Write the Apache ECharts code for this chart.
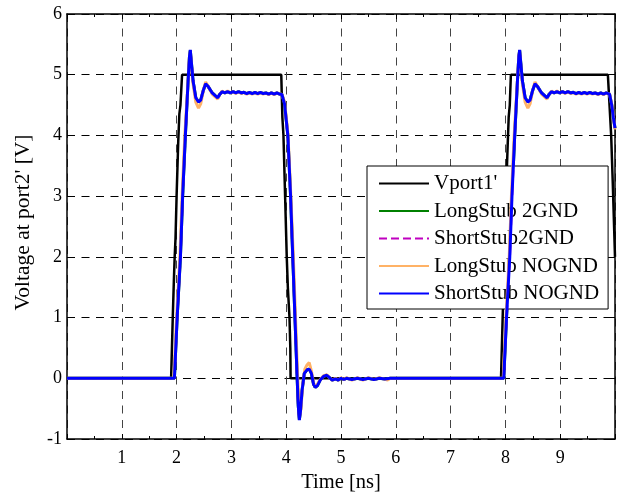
<!DOCTYPE html>
<html>
<head>
<meta charset="utf-8">
<script src="https://cdn.jsdelivr.net/npm/echarts@6/dist/echarts.min.js"></script>
<style>html,body{margin:0;padding:0;background:#fff;overflow:hidden}#c{width:618px;height:493px}</style>
</head>
<body>
<div id="c"></div>
<script>
// ---- data (time [ns], voltage [V]) ----
const seriesNames = ["Vport1'", "LongStub 2GND", "ShortStub2GND", "LongStub NOGND", "ShortStub NOGND"];
const xTicks = [1, 2, 3, 4, 5, 6, 7, 8, 9];
const yTicks = [-1, 0, 1, 2, 3, 4, 5, 6];

const vport1 = [
  [0,0],[1.90,0],[1.93,1.0],[1.95,1.6],[1.965,2.0],[1.98,2.3],[2.0,3.0],[2.03,3.9],[2.05,4.35],[2.07,4.5],[2.10,5.0],
  [3.91,5.0],[3.93,4.3],[3.95,4.0],[3.98,3.0],[4.01,2.0],[4.03,1.5],[4.06,1.0],[4.075,0.5],[4.08,0],
  [7.92,0],[7.95,1.0],[7.97,1.6],[7.985,2.0],[8.01,3.0],[8.04,3.8],[8.06,4.3],[8.08,4.5],[8.10,5.0],
  [9.87,5.0],[9.90,4.5],[9.93,4.0],[9.96,3.2],[10,2.0]
];

const shortStubNOGND = [
  [0,0],[1.96,0],[2.01,1.0],[2.07,2.0],[2.11,3.0],[2.16,4.0],[2.21,4.9],[2.235,5.3],[2.25,5.41],[2.27,5.2],[2.30,4.9],
  [2.35,4.62],[2.40,4.55],[2.44,4.58],[2.49,4.75],[2.53,4.85],[2.58,4.8],[2.65,4.7],[2.71,4.65],[2.75,4.62],[2.79,4.68],
  [2.83,4.72],[2.88,4.70],[2.93,4.72],[2.98,4.70],[3.03,4.72],[3.08,4.70],[3.13,4.72],[3.18,4.70],[3.23,4.71],[3.28,4.69],
  [3.33,4.71],[3.38,4.69],[3.43,4.71],[3.48,4.69],[3.53,4.71],[3.58,4.69],[3.63,4.70],[3.68,4.68],[3.73,4.70],[3.78,4.68],
  [3.83,4.70],[3.88,4.68],[3.92,4.68],[3.97,4.52],[4.03,4.0],[4.08,3.0],[4.12,2.0],[4.16,1.0],[4.20,0],[4.22,-0.45],
  [4.24,-0.69],[4.26,-0.55],[4.29,-0.2],[4.33,0.08],[4.38,0.14],[4.42,0.15],[4.46,0.08],[4.50,-0.1],[4.53,-0.15],[4.57,-0.12],
  [4.62,-0.03],[4.68,0.03],[4.74,0.05],[4.79,0.01],[4.84,-0.03],[4.90,-0.01],[4.95,-0.03],[5.0,0.0],[5.05,-0.02],[5.10,0.0],
  [5.20,-0.02],[5.30,0.0],[5.40,-0.02],[5.50,0.0],[5.60,-0.02],[5.70,0.0],[5.80,-0.01],[5.90,0],
  [7.97,0],[8.02,1.0],[8.08,2.0],[8.12,3.0],[8.17,4.0],[8.22,4.9],[8.245,5.3],[8.26,5.41],[8.28,5.2],[8.31,4.9],
  [8.36,4.62],[8.41,4.55],[8.45,4.58],[8.50,4.75],[8.54,4.85],[8.59,4.8],[8.66,4.7],[8.72,4.65],[8.76,4.62],[8.80,4.68],
  [8.84,4.72],[8.89,4.70],[8.94,4.72],[8.99,4.70],[9.04,4.72],[9.09,4.70],[9.14,4.72],[9.19,4.70],[9.24,4.71],[9.29,4.69],
  [9.34,4.71],[9.39,4.69],[9.44,4.71],[9.49,4.69],[9.54,4.71],[9.59,4.69],[9.64,4.70],[9.69,4.68],[9.74,4.70],[9.79,4.68],
  [9.84,4.70],[9.90,4.68],[9.94,4.50],[9.97,4.30],[10,4.12]
];

const longStub2GND = [
  [0,0],[1.96,0],[2.01,1.0],[2.07,2.0],[2.11,3.0],[2.16,4.0],[2.21,4.9],[2.235,5.3],[2.25,5.40],[2.27,5.2],[2.30,4.9],
  [2.35,4.62],[2.40,4.55],[2.44,4.58],[2.49,4.75],[2.53,4.85],[2.58,4.8],[2.65,4.7],[2.71,4.65],[2.75,4.62],[2.79,4.68],
  [2.83,4.72],[2.88,4.70],[2.93,4.72],[2.98,4.70],[3.03,4.72],[3.08,4.70],[3.13,4.72],[3.18,4.70],[3.23,4.71],[3.28,4.69],
  [3.33,4.71],[3.38,4.69],[3.43,4.71],[3.48,4.69],[3.53,4.71],[3.58,4.69],[3.63,4.70],[3.68,4.68],[3.73,4.70],[3.78,4.68],
  [3.83,4.70],[3.88,4.68],[3.92,4.68],[3.97,4.52],[4.03,4.0],[4.08,3.0],[4.12,2.0],[4.16,1.0],[4.20,0],[4.22,-0.45],
  [4.24,-0.68],[4.26,-0.55],[4.29,-0.2],[4.33,0.08],[4.38,0.14],[4.42,0.15],[4.46,0.08],[4.50,-0.1],[4.53,-0.15],[4.57,-0.12],
  [4.62,-0.03],[4.68,0.03],[4.74,0.05],[4.79,0.01],[4.84,-0.03],[4.90,-0.01],[4.95,-0.03],[5.0,0.0],[5.05,-0.02],[5.10,0.0],
  [5.20,-0.02],[5.30,0.0],[5.40,-0.02],[5.50,0.0],[5.60,-0.02],[5.70,0.0],[5.80,-0.01],[5.90,0],
  [7.97,0],[8.02,1.0],[8.08,2.0],[8.12,3.0],[8.17,4.0],[8.22,4.9],[8.245,5.3],[8.26,5.40],[8.28,5.2],[8.31,4.9],
  [8.36,4.62],[8.41,4.55],[8.45,4.58],[8.50,4.75],[8.54,4.85],[8.59,4.8],[8.66,4.7],[8.72,4.65],[8.76,4.62],[8.80,4.68],
  [8.84,4.72],[8.89,4.70],[8.94,4.72],[8.99,4.70],[9.04,4.72],[9.09,4.70],[9.14,4.72],[9.19,4.70],[9.24,4.71],[9.29,4.69],
  [9.34,4.71],[9.39,4.69],[9.44,4.71],[9.49,4.69],[9.54,4.71],[9.59,4.69],[9.64,4.70],[9.69,4.68],[9.74,4.70],[9.79,4.68],
  [9.84,4.70],[9.90,4.68],[9.94,4.50],[9.97,4.30],[10,4.12]
];

const shortStub2GND = [
  [0,0],[1.96,0],[2.01,1.0],[2.07,2.0],[2.11,3.0],[2.16,4.0],[2.21,4.9],[2.235,5.3],[2.25,5.40],[2.27,5.2],[2.30,4.9],
  [2.35,4.62],[2.40,4.55],[2.44,4.58],[2.49,4.75],[2.53,4.85],[2.58,4.8],[2.65,4.7],[2.71,4.65],[2.75,4.62],[2.79,4.68],
  [2.83,4.72],[2.88,4.70],[2.93,4.72],[2.98,4.70],[3.03,4.72],[3.08,4.70],[3.13,4.72],[3.18,4.70],[3.23,4.71],[3.28,4.69],
  [3.33,4.71],[3.38,4.69],[3.43,4.71],[3.48,4.69],[3.53,4.71],[3.58,4.69],[3.63,4.70],[3.68,4.68],[3.73,4.70],[3.78,4.68],
  [3.83,4.70],[3.88,4.68],[3.92,4.68],[3.97,4.52],[4.03,4.0],[4.08,3.0],[4.12,2.0],[4.16,1.0],[4.20,0],[4.22,-0.45],
  [4.24,-0.68],[4.26,-0.55],[4.29,-0.2],[4.33,0.08],[4.38,0.14],[4.42,0.15],[4.46,0.08],[4.50,-0.1],[4.53,-0.15],[4.57,-0.12],
  [4.62,-0.03],[4.68,0.03],[4.74,0.05],[4.79,0.01],[4.84,-0.03],[4.90,-0.01],[4.95,-0.03],[5.0,0.0],[5.05,-0.02],[5.10,0.0],
  [5.20,-0.02],[5.30,0.0],[5.40,-0.02],[5.50,0.0],[5.60,-0.02],[5.70,0.0],[5.80,-0.01],[5.90,0],
  [7.97,0],[8.02,1.0],[8.08,2.0],[8.12,3.0],[8.17,4.0],[8.22,4.9],[8.245,5.3],[8.26,5.40],[8.28,5.2],[8.31,4.9],
  [8.36,4.62],[8.41,4.55],[8.45,4.58],[8.50,4.75],[8.54,4.85],[8.59,4.8],[8.66,4.7],[8.72,4.65],[8.76,4.62],[8.80,4.68],
  [8.84,4.72],[8.89,4.70],[8.94,4.72],[8.99,4.70],[9.04,4.72],[9.09,4.70],[9.14,4.72],[9.19,4.70],[9.24,4.71],[9.29,4.69],
  [9.34,4.71],[9.39,4.69],[9.44,4.71],[9.49,4.69],[9.54,4.71],[9.59,4.69],[9.64,4.70],[9.69,4.68],[9.74,4.70],[9.79,4.68],
  [9.84,4.70],[9.90,4.68],[9.94,4.50],[9.97,4.30],[10,4.12]
];

const longStubNOGND = [
  [0,0],[1.95,0],[2.00,1.0],[2.06,2.0],[2.10,3.0],[2.15,4.0],[2.21,4.9],[2.235,5.3],[2.25,5.38],[2.27,5.15],[2.30,4.85],
  [2.35,4.55],[2.40,4.45],[2.44,4.52],[2.49,4.75],[2.53,4.88],[2.58,4.8],[2.65,4.68],[2.71,4.63],[2.75,4.60],[2.79,4.68],
  [2.83,4.73],[2.88,4.70],[2.93,4.73],[2.98,4.70],[3.03,4.72],[3.08,4.69],[3.13,4.72],[3.18,4.69],[3.23,4.71],[3.28,4.68],
  [3.33,4.71],[3.38,4.68],[3.43,4.71],[3.48,4.68],[3.53,4.71],[3.58,4.68],[3.63,4.70],[3.68,4.67],[3.73,4.70],[3.78,4.67],
  [3.83,4.70],[3.88,4.68],[3.92,4.68],[3.97,4.55],[4.03,4.05],[4.08,3.1],[4.13,2.0],[4.17,1.0],[4.21,0],[4.23,-0.4],
  [4.245,-0.62],[4.27,-0.5],[4.30,-0.1],[4.34,0.15],[4.38,0.22],[4.42,0.26],[4.46,0.12],[4.50,-0.08],[4.53,-0.13],[4.57,-0.1],
  [4.62,-0.02],[4.68,0.04],[4.74,0.06],[4.79,0.01],[4.84,-0.03],[4.90,0.0],[4.95,-0.03],[5.0,0.01],[5.05,-0.02],[5.10,0.01],
  [5.20,-0.03],[5.30,0.01],[5.40,-0.03],[5.50,0.01],[5.60,-0.02],[5.70,0.01],[5.85,-0.03],[5.90,0],
  [7.96,0],[8.01,1.0],[8.07,2.0],[8.11,3.0],[8.16,4.0],[8.22,4.9],[8.245,5.3],[8.26,5.38],[8.28,5.15],[8.31,4.85],
  [8.36,4.55],[8.41,4.45],[8.45,4.52],[8.50,4.75],[8.54,4.88],[8.59,4.8],[8.66,4.68],[8.72,4.63],[8.76,4.60],[8.80,4.68],
  [8.84,4.73],[8.89,4.70],[8.94,4.73],[8.99,4.70],[9.04,4.72],[9.09,4.69],[9.14,4.72],[9.19,4.69],[9.24,4.71],[9.29,4.68],
  [9.34,4.71],[9.39,4.68],[9.44,4.71],[9.49,4.68],[9.54,4.71],[9.59,4.68],[9.64,4.70],[9.69,4.67],[9.74,4.70],[9.79,4.67],
  [9.84,4.70],[9.90,4.68],[9.94,4.52],[9.97,4.32],[10,4.10]
];

const seriesData = [vport1, longStub2GND, shortStub2GND, longStubNOGND, shortStubNOGND];
const seriesColors = ['#000000', '#008000', '#c000c0', '#ffb266', '#0000ff'];
const seriesWidths = [2.5, 3, 2.5, 3, 3];
const seriesTypes = ['solid', 'solid', 'dashed', 'solid', 'solid'];

// ---- chart ----
const FONT = 'Liberation Serif';
const chart = echarts.init(document.getElementById('c'), null, {renderer: 'canvas'});

const baseX = {
  type: 'value', min: 0, max: 10, interval: 1,
  axisLine: {show: true, onZero: false, lineStyle: {color: '#000', width: 1.5}},
  axisTick: {show: true, inside: true, length: 5, lineStyle: {color: '#000', width: 1}},
  minorTick: {show: true, splitNumber: 2, length: 3, lineStyle: {color: '#000', width: 1}},
};
const baseY = {
  type: 'value', min: -1, max: 6, interval: 1,
  axisLine: {show: true, onZero: false, lineStyle: {color: '#000', width: 1.5}},
  axisTick: {show: true, inside: true, length: 5, lineStyle: {color: '#000', width: 1}},
};

chart.setOption({
  animation: false,
  backgroundColor: '#fff',
  grid: {left: 67, right: 3, top: 14, bottom: 54, containLabel: false, outerBoundsMode: 'none'},
  legend: {
    orient: 'vertical', left: 367, top: 166,
    itemWidth: 50, itemHeight: 14, itemGap: 6.5,
    padding: [7, 9, 5, 11],
    backgroundColor: '#fff', borderColor: '#000', borderWidth: 1,
    itemStyle: {opacity: 0, borderWidth: 0},
    textStyle: {fontFamily: FONT, fontSize: 21, color: '#000', lineHeight: 21},
    data: seriesNames.map(n => ({name: n}))
  },
  xAxis: [
    Object.assign({}, baseX, {
      position: 'bottom',
      name: 'Time [ns]', nameLocation: 'middle', nameGap: 31,
      nameTextStyle: {fontFamily: FONT, fontSize: 20.5, color: '#000'},
      axisLabel: {
        show: true, margin: 10, fontFamily: FONT, fontSize: 18, color: '#000',
        formatter: v => (xTicks.indexOf(v) >= 0 ? String(v) : '')
      },
      splitLine: {show: true, lineStyle: {color: '#444', width: 1, type: [8, 6.5]}}
    }),
    Object.assign({}, baseX, {
      position: 'top', axisLabel: {show: false}, splitLine: {show: false}
    })
  ],
  yAxis: [
    Object.assign({}, baseY, {
      position: 'left',
      name: "Voltage at port2' [V]", nameLocation: 'middle', nameGap: 33,
      nameTextStyle: {fontFamily: FONT, fontSize: 21.5, color: '#000', padding: [0, 0, 0, 8]},
      axisLabel: {
        show: true, margin: 5, fontFamily: FONT, fontSize: 18, color: '#000',
        formatter: v => (yTicks.indexOf(v) >= 0 ? String(v) : '')
      },
      splitLine: {show: true, lineStyle: {color: '#000', width: 1, type: [8, 6.5]}}
    }),
    Object.assign({}, baseY, {
      position: 'right', axisLabel: {show: false}, splitLine: {show: false}
    })
  ],
  series: seriesNames.map((n, i) => ({
    name: n, type: 'line', xAxisIndex: 0, yAxisIndex: 0,
    data: seriesData[i], symbol: 'none', showSymbol: false, smooth: false,
    color: seriesColors[i],
    lineStyle: {color: seriesColors[i], width: seriesWidths[i], type: seriesTypes[i]},
    z: 2 + i
  }))
});
</script>
</body>
</html>
